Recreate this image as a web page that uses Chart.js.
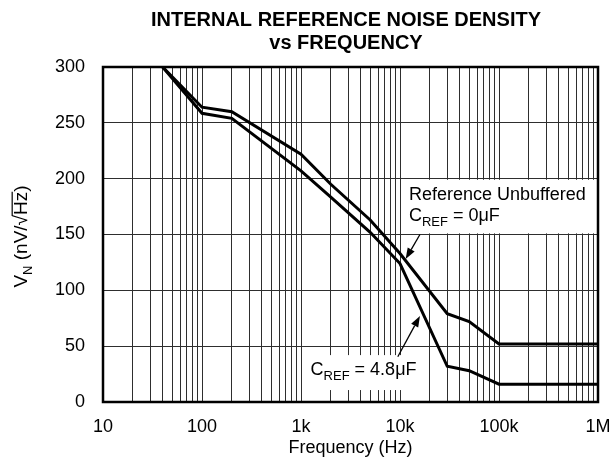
<!DOCTYPE html>
<html>
<head>
<meta charset="utf-8">
<title>Internal Reference Noise Density vs Frequency</title>
<script src="https://cdn.jsdelivr.net/npm/chart.js@4.4.1/dist/chart.umd.min.js"></script>
<style>
    html, body { margin: 0; padding: 0; background: #fff; }
</style>
</head>
<body>
<canvas id="noiseChart" width="610" height="470"></canvas>
<script>
// Values
var freqHz          = [40, 100, 200, 1000, 2000, 5000, 10000, 30000, 50000, 100000, 1000000];
var noiseUnbuffered = [300, 264, 260, 222, 195, 163, 133, 79, 72, 52, 52];   // CREF = 0uF
var noiseCref48     = [300, 258.5, 254, 207, 183.5, 152, 124, 32, 28, 16, 16]; // CREF = 4.8uF

var xTickLabels = ['10', '100', '1k', '10k', '100k', '1M'];
var yTickStep = 50;

var FONT = '"Liberation Sans", Arial, Helvetica, sans-serif';

// gridlines at 1..9 of every decade
var xGridValues = [];
for (var d = 1; d <= 6; d++) {
    for (var m = 1; m <= 9; m++) {
        var v = m * Math.pow(10, d);
        if (v <= 1e6) xGridValues.push(v);
    }
}

function toPoints(ys) {
    return freqHz.map(function (f, i) { return { x: f, y: ys[i] }; });
}

// draws text made of pieces: {t, size, dy, over}
function drawRich(ctx, pieces, x, y) {
    pieces.forEach(function (p) {
        ctx.font = p.size + 'px ' + FONT;
        ctx.fillText(p.t, x, y + (p.dy || 0));
        var w = ctx.measureText(p.t).width;
        if (p.over) {
            ctx.save();
            ctx.lineWidth = 1.2;
            ctx.beginPath();
            ctx.moveTo(x - 1, y - p.size * 0.78);
            ctx.lineTo(x + w, y - p.size * 0.78);
            ctx.stroke();
            ctx.restore();
        }
        x += w;
    });
}

function richWidth(ctx, pieces) {
    var w = 0;
    pieces.forEach(function (p) {
        ctx.font = p.size + 'px ' + FONT;
        w += ctx.measureText(p.t).width;
    });
    return w;
}

function arrow(ctx, x1, y1, x2, y2) {
    var ang = Math.atan2(y2 - y1, x2 - x1);
    var len = 11, half = 4;
    var bx = x2 - Math.cos(ang) * len, by = y2 - Math.sin(ang) * len;
    ctx.lineWidth = 1.3;
    ctx.beginPath();
    ctx.moveTo(x1, y1);
    ctx.lineTo(bx, by);
    ctx.stroke();
    ctx.beginPath();
    ctx.moveTo(x2, y2);
    ctx.lineTo(bx + Math.sin(ang) * half, by - Math.cos(ang) * half);
    ctx.lineTo(bx - Math.sin(ang) * half, by + Math.cos(ang) * half);
    ctx.closePath();
    ctx.fill();
}

// label boxes and arrows, placed in data units
var notes = [
    {
        box: { f0: 11500, f1: 1e6, v0: 199, v1: 151 },
        text: { f: 12300, v: 180.5 },
        lines: [
            [{ t: 'Reference Unbuffered', size: 18 }],
            [{ t: 'C', size: 18 }, { t: 'REF', size: 13, dy: 5 }, { t: ' = 0\u03BCF', size: 18 }]
        ],
        arrow: { f0: 15900, v0: 150, f1: 11400, v1: 128 }
    },
    {
        box: { f0: 1070, f1: 17500, v0: 42, v1: 10.7 },
        text: { f: 1250, v: 24.5 },
        lines: [
            [{ t: 'C', size: 18 }, { t: 'REF', size: 13, dy: 5 }, { t: ' = 4.8\u03BCF', size: 18 }]
        ],
        arrow: { f0: 9500, v0: 40.5, f1: 15900, v1: 77 }
    }
];

var decorPlugin = {
    id: 'decor',
    beforeDatasetsDraw: function (chart) {
        var ctx = chart.ctx, xs = chart.scales.x, ys = chart.scales.y;
        ctx.save();
        ctx.fillStyle = '#fff';
        notes.forEach(function (n) {
            var x0 = xs.getPixelForValue(n.box.f0), x1 = xs.getPixelForValue(n.box.f1);
            var y0 = ys.getPixelForValue(n.box.v0), y1 = ys.getPixelForValue(n.box.v1);
            ctx.fillRect(x0, y0, x1 - x0, y1 - y0);
        });
        ctx.restore();
    },
    afterDatasetsDraw: function (chart) {
        var ctx = chart.ctx, xs = chart.scales.x, ys = chart.scales.y, a = chart.chartArea;
        ctx.save();
        ctx.fillStyle = '#000';
        ctx.strokeStyle = '#000';
        ctx.textBaseline = 'alphabetic';
        ctx.textAlign = 'left';

        notes.forEach(function (n) {
            var tx = xs.getPixelForValue(n.text.f), ty = ys.getPixelForValue(n.text.v);
            n.lines.forEach(function (line, i) {
                drawRich(ctx, line, tx, ty + i * 21);
            });
            arrow(ctx, xs.getPixelForValue(n.arrow.f0), ys.getPixelForValue(n.arrow.v0),
                       xs.getPixelForValue(n.arrow.f1), ys.getPixelForValue(n.arrow.v1));
        });

        // frame
        ctx.lineWidth = 2.5;
        ctx.strokeRect(a.left, a.top, a.right - a.left, a.bottom - a.top);

        // title
        ctx.textAlign = 'center';
        ctx.font = 'bold 20px ' + FONT;
        ctx.fillText('INTERNAL REFERENCE NOISE DENSITY', 346, 26);
        ctx.fillText('vs FREQUENCY', 346, 49);

        // x axis title
        ctx.font = '18px ' + FONT;
        ctx.textBaseline = 'middle';
        ctx.fillText('Frequency (Hz)', (a.left + a.right) / 2, 448);

        // y axis title
        var yTitle = [
            { t: 'V', size: 19 }, { t: 'N', size: 13, dy: 5 }, { t: ' (nV/', size: 19 },
            { t: '\u221A', size: 19 }, { t: 'Hz', size: 19, over: true }, { t: ')', size: 19 }
        ];
        ctx.textAlign = 'left';
        ctx.textBaseline = 'alphabetic';
        ctx.translate(20, (a.top + a.bottom) / 2 + 2);
        ctx.rotate(-Math.PI / 2);
        drawRich(ctx, yTitle, -richWidth(ctx, yTitle) / 2, 7);
        ctx.restore();
    }
};

var gridStyle = { color: '#2e2e2e', lineWidth: 1, drawTicks: false };
var tickFont = { family: FONT, size: 18 };

var ctx = document.getElementById('noiseChart').getContext('2d');
var noiseChart = new Chart(ctx, {
    type: 'line',
    data: {
        datasets: [
            { label: 'Reference Unbuffered, CREF = 0uF', data: toPoints(noiseUnbuffered),
              borderColor: '#000', borderWidth: 3, pointRadius: 0, fill: false, tension: 0 },
            { label: 'CREF = 4.8uF', data: toPoints(noiseCref48),
              borderColor: '#000', borderWidth: 3, pointRadius: 0, fill: false, tension: 0 }
        ]
    },
    options: {
        responsive: false,
        animation: false,
        layout: { padding: { top: 67, right: 12, left: 0, bottom: 0 } },
        plugins: {
            legend: { display: false },
            tooltip: { enabled: false }
        },
        scales: {
            x: {
                type: 'logarithmic',
                min: 10,
                max: 1e6,
                afterBuildTicks: function (scale) {
                    scale.ticks = xGridValues.map(function (v) { return { value: v }; });
                },
                afterFit: function (scale) {
                    scale.height = 68;
                    scale.paddingLeft = 0;
                    scale.paddingRight = 0;
                },
                grid: gridStyle,
                border: { display: false },
                ticks: {
                    autoSkip: false,
                    maxRotation: 0,
                    padding: 14,
                    color: '#000',
                    font: tickFont,
                    callback: function (value) {
                        var p = Math.log10(value);
                        if (Math.abs(p - Math.round(p)) < 1e-9) return xTickLabels[Math.round(p) - 1];
                        return '';
                    }
                }
            },
            y: {
                min: 0,
                max: 300,
                afterFit: function (scale) {
                    scale.width = 103;
                    scale.paddingTop = 0;
                    scale.paddingBottom = 0;
                },
                grid: gridStyle,
                border: { display: false },
                ticks: { stepSize: yTickStep, padding: 18, color: '#000', font: tickFont }
            }
        }
    },
    plugins: [decorPlugin]
});
</script>
</body>
</html>
